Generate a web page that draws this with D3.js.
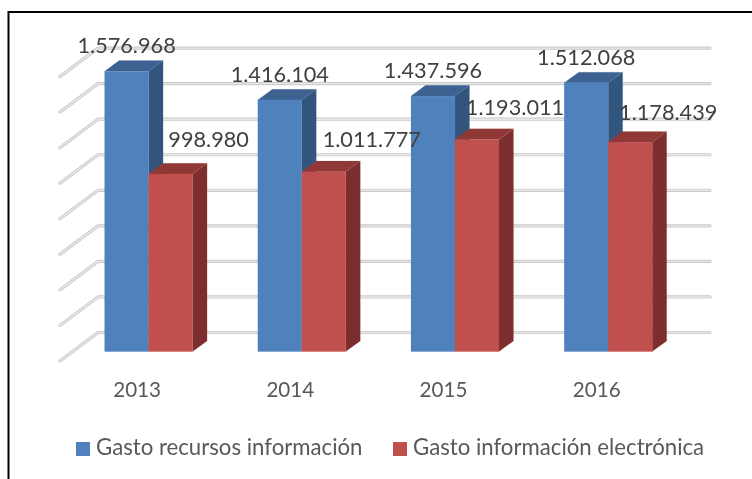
<!DOCTYPE html>
<html>
<head>
<meta charset="utf-8">
<style>
  html, body { margin: 0; padding: 0; background: #fff; }
  svg { display: block; }
</style>
<script src="https://d3js.org/d3.v7.min.js"></script>
</head>
<body>
<div id="vis"></div>
<script>
// data
const years = ['2013', '2014', '2015', '2016'];
const seriesNames = ['Gasto recursos información', 'Gasto información electrónica'];
const recursos = [1576968, 1416104, 1437596, 1512068];
const electronica = [998980, 1011777, 1193011, 1178439];
const gridTicks = [0, 200000, 400000, 600000, 800000, 1000000, 1200000, 1400000, 1600000];

const width = 752, height = 479;
const font = 'Lato, Carlito, sans-serif';

const colors = {
  blue: { front: '#4f81bd', side: '#33547e', top: '#3d6291' },
  red: { front: '#c0504d', side: '#7b2f2e', top: '#8f3836' }
};

// fake 3d: how far the bars and the walls reach back
const barDepth = { x: 14.5, y: -10.7 };
const wallDepth = { x: 38, y: -28.5 };

const svg = d3.select('#vis')
  .append('svg')
  .attr('width', width)
  .attr('height', height)
  .style('background-color', '#fff');

// soft look of the scanned picture
const defs = svg.append('defs');
defs.append('filter').attr('id', 'soft')
  .append('feGaussianBlur').attr('stdDeviation', 0.45);
defs.append('filter').attr('id', 'softText')
  .append('feGaussianBlur').attr('stdDeviation', 0.3);

// frame runs off the right and bottom of the image
svg.append('path')
  .attr('d', d3.line()([[8.5, height], [8.5, 12], [width, 12]]))
  .attr('fill', 'none')
  .attr('stroke', '#000')
  .attr('stroke-width', 2);

const baseY = 351.6;
const y = d3.scaleLinear().domain([0, 1600000]).range([baseY, baseY - 284.4]);

const x0 = d3.scaleBand()
  .domain(years)
  .range([72, 684.8])
  .paddingInner(0.4256)
  .paddingOuter(0.2128);

const x1 = d3.scaleBand()
  .domain(seriesNames)
  .range([0, x0.bandwidth()]);

// grid: back wall line plus the diagonal on the side wall
const grid = svg.append('g').attr('filter', 'url(#soft)');
const backLeft = 98, backRight = 710;

[{ w: 3.2, c: '#c9c9c9' }, { w: 1.4, c: '#e8e8e8' }].forEach(s => {
  grid.selectAll(null)
    .data(gridTicks)
    .join('path')
    .attr('d', d => {
      const yBack = y(d) - 19.1;
      return d3.line()([
        [backLeft - wallDepth.x, yBack - wallDepth.y],
        [backLeft, yBack],
        [backRight, yBack]
      ]);
    })
    .attr('fill', 'none')
    .attr('stroke', s.c)
    .attr('stroke-width', s.w)
    .attr('stroke-linecap', 'round')
    .attr('stroke-linejoin', 'round');
});

// bars, back to front
const bars = svg.append('g').attr('filter', 'url(#soft)');

function drawBar(px, py, w, h, pal) {
  const dx = barDepth.x, dy = barDepth.y;
  const g = bars.append('g')
    .attr('stroke', pal.front)
    .attr('stroke-opacity', 0.25)
    .attr('stroke-width', 0.6);
  g.append('path')
    .attr('d', d3.line()([[px, py], [px + dx, py + dy], [px + w + dx, py + dy], [px + w, py]]) + 'Z')
    .attr('fill', pal.top);
  g.append('path')
    .attr('d', d3.line()([[px + w, py], [px + w + dx, py + dy], [px + w + dx, py + h + dy], [px + w, py + h]]) + 'Z')
    .attr('fill', pal.side);
  g.append('rect')
    .attr('x', px).attr('y', py)
    .attr('width', w).attr('height', h)
    .attr('fill', pal.front);
}

years.forEach((yr, i) => {
  const xb = x0(yr) + x1(seriesNames[0]);
  const xr = x0(yr) + x1(seriesNames[1]);
  drawBar(xb, y(recursos[i]), x1.bandwidth(), baseY - y(recursos[i]), colors.blue);
  drawBar(xr, y(electronica[i]), x1.bandwidth(), baseY - y(electronica[i]), colors.red);
});

// value labels, dots as thousands separator
const fmt = d3.formatLocale({ decimal: ',', thousands: '.', grouping: [3], currency: ['', ''] }).format(',d');
const labelSize = 21.7;
// the 2014 red label was moved by hand in the original
const redNudgeX = [0, 10, 0, 0];
const redNudgeY = [-27, -25, -25, -22];

const labels = svg.append('g')
  .attr('font-family', font)
  .attr('font-size', labelSize)
  .attr('fill', '#404040')
  .attr('filter', 'url(#softText)')
  .attr('text-anchor', 'middle');

labels.selectAll('.blue')
  .data(years)
  .join('text')
  .attr('class', 'blue')
  .attr('x', d => x0(d) + x1(seriesNames[0]) + x1.bandwidth() / 2)
  .attr('y', (d, i) => y(recursos[i]) - 18)
  .text((d, i) => fmt(recursos[i]));

labels.selectAll('.red')
  .data(years)
  .join('text')
  .attr('class', 'red')
  .attr('x', (d, i) => x0(d) + x1(seriesNames[1]) + x1.bandwidth() / 2 + 38 + redNudgeX[i])
  .attr('y', (d, i) => y(electronica[i]) + redNudgeY[i])
  .text((d, i) => fmt(electronica[i]));

// year axis
const xAxis = svg.append('g')
  .attr('transform', 'translate(-11.5,382.5)')
  .attr('filter', 'url(#softText)')
  .call(d3.axisBottom(x0).tickSize(0).tickPadding(0));
xAxis.select('.domain').remove();
xAxis.selectAll('text')
  .attr('font-family', font)
  .attr('font-size', 20.6)
  .attr('fill', '#595959');

// legend
const legend = svg.append('g').attr('font-family', font).attr('font-size', 22.2);
const legendX = d3.scaleOrdinal().domain(seriesNames).range([76, 393]);
const legendColor = d3.scaleOrdinal().domain(seriesNames).range([colors.blue.front, colors.red.front]);

legend.selectAll('rect')
  .data(seriesNames)
  .join('rect')
  .attr('x', d => legendX(d))
  .attr('y', 442)
  .attr('width', 14)
  .attr('height', 14)
  .attr('fill', d => legendColor(d));

legend.selectAll('text')
  .data(seriesNames)
  .join('text')
  .attr('x', d => legendX(d) + 20)
  .attr('y', 455)
  .attr('fill', '#595959')
  .attr('filter', 'url(#softText)')
  .text(d => d);
</script>
</body>
</html>
